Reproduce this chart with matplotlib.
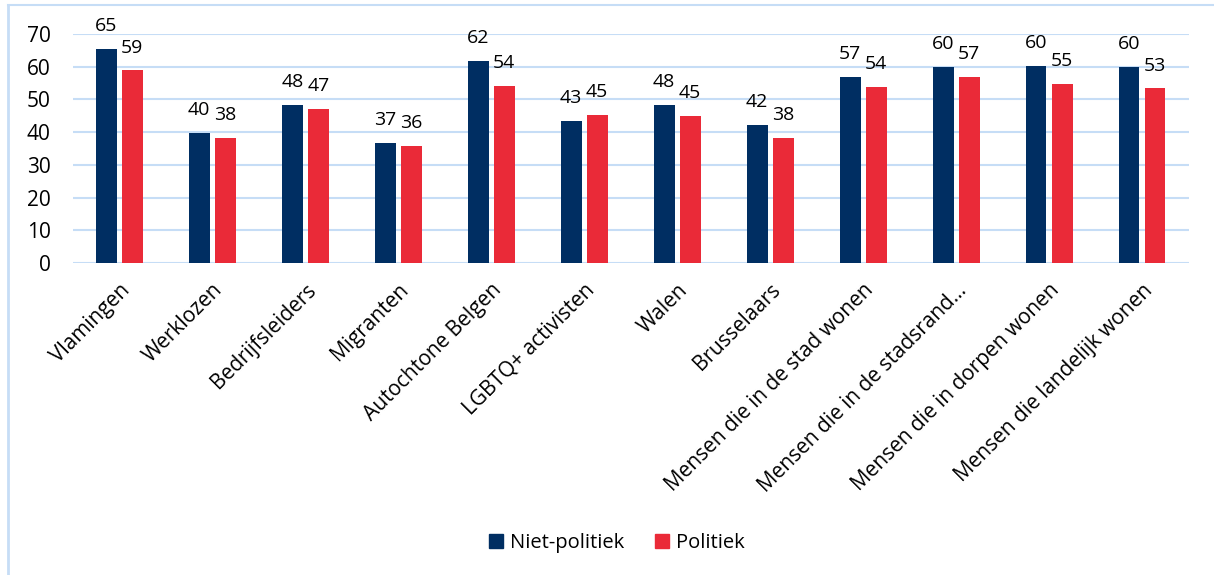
import matplotlib.pyplot as plt
import numpy as np
from matplotlib.lines import Line2D

categories = ['Vlamingen', 'Werklozen', 'Bedrijfsleiders', 'Migranten',
              'Autochtone Belgen', 'LGBTQ+ activisten', 'Walen', 'Brusselaars',
              'Mensen die in de stad wonen', 'Mensen die in de stadsrand…',
              'Mensen die in dorpen wonen', 'Mensen die landelijk wonen']
niet_politiek = [65.3, 39.6, 48.2, 36.6, 61.8, 43.4, 48.2, 42.1, 56.7, 59.9, 60.2, 59.9]
politiek = [58.8, 38.1, 47.1, 35.8, 54.2, 45.3, 45.0, 38.3, 53.8, 56.8, 54.6, 53.3]
series_names = ['Niet-politiek', 'Politiek']

navy = '#002E62'
red = '#EA2A38'
grid_blue = '#C6DDF6'

plt.rcParams['font.family'] = ['Open Sans', 'DejaVu Sans']

fig = plt.figure(figsize=(12.14, 5.75), dpi=100)
ax = fig.add_axes([0.060, 0.5426, 0.919, 0.3986])

x = np.arange(len(categories))
w = 0.225
off = 0.14
b1 = ax.bar(x - off, niet_politiek, w, color=navy, zorder=3)
b2 = ax.bar(x + off, politiek, w, color=red, zorder=3)

# value labels above each bar
for bars, vals in ((b1, niet_politiek), (b2, politiek)):
    for bar, v in zip(bars, vals):
        ax.annotate(f'{v:.0f}', (bar.get_x() + bar.get_width() / 2, v),
                    xytext=(0, 10), textcoords='offset points',
                    ha='center', va='bottom', fontsize=14, clip_on=False)

ax.set_xlim(-0.5, len(categories) - 0.5)
ax.set_ylim(0, 70)
ax.set_yticks(range(0, 71, 10))
ax.yaxis.grid(True, color=grid_blue, linewidth=1.5, zorder=0)
ax.set_axisbelow(True)
for s in ax.spines.values():
    s.set_visible(False)
ax.tick_params(axis='both', length=0, labelsize=15)
ax.tick_params(axis='y', pad=16)
ax.set_xticks(x)
ax.set_xticklabels(categories, rotation=45, ha='right', rotation_mode='anchor')
ax.tick_params(axis='x', pad=12)

handles = [plt.Rectangle((0, 0), 1, 1, color=navy), plt.Rectangle((0, 0), 1, 1, color=red)]
fig.legend(handles, series_names, loc='center', bbox_to_anchor=(0.508, 0.055),
           ncol=2, frameon=False, fontsize=14.5, handlelength=0.7, handleheight=0.7,
           handletextpad=0.35, columnspacing=1.5)

# chart frame (left and top edges visible)
fig.add_artist(Line2D([8 / 1214, 8 / 1214], [0, 1 - 5 / 575], transform=fig.transFigure,
                      color=grid_blue, linewidth=2))
fig.add_artist(Line2D([8 / 1214, 1], [1 - 5 / 575, 1 - 5 / 575], transform=fig.transFigure,
                      color=grid_blue, linewidth=1.5))

fig.savefig('out.png', dpi=100)
